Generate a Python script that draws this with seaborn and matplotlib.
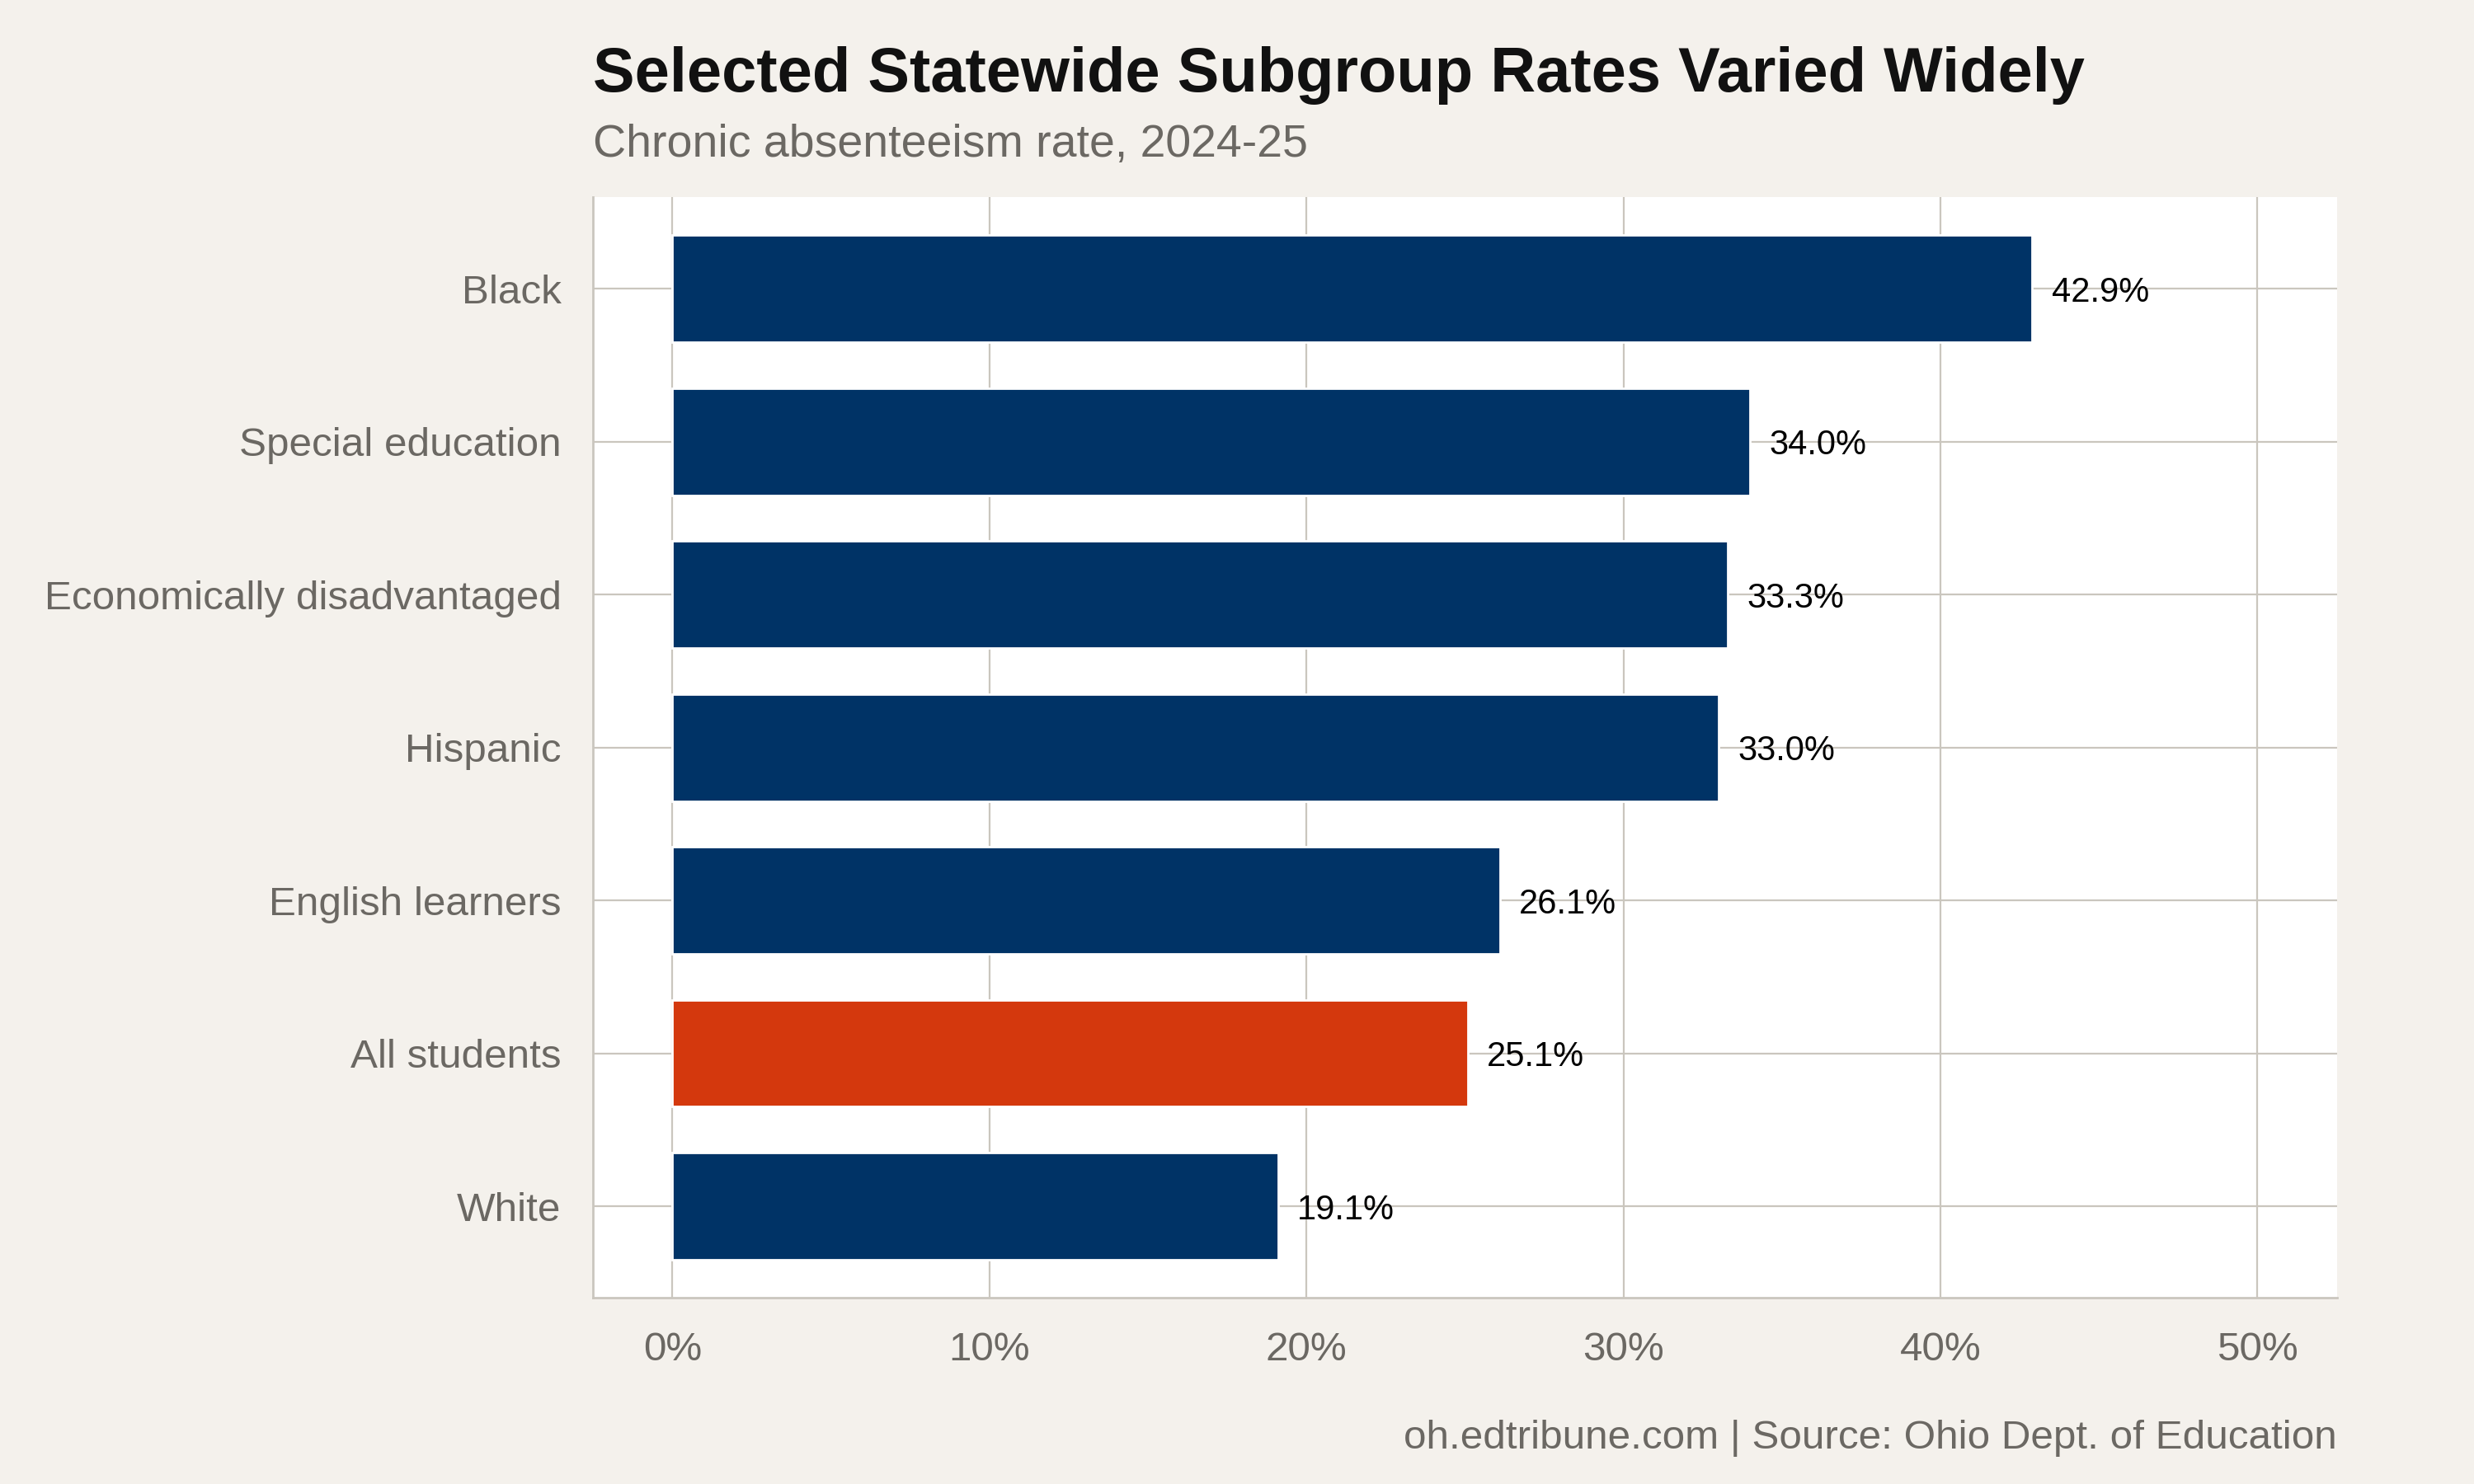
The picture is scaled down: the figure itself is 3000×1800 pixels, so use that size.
import numpy as np
import pandas as pd
import matplotlib
matplotlib.use("Agg")
import matplotlib.pyplot as plt
import seaborn as sns
from matplotlib.ticker import FuncFormatter

# data
groups = ["Black", "Special education", "Economically disadvantaged",
          "Hispanic", "English learners", "All students", "White"]
rates = [42.9, 34.0, 33.3, 33.0, 26.1, 25.1, 19.1]
highlight = ["other", "other", "other", "other", "other", "all", "other"]

df = pd.DataFrame({"group": groups, "rate": rates, "kind": highlight})

bg = "#f4f1ec"
grid = "#cac6be"
gray_txt = "#6b6863"
colors = {"other": "#003366", "all": "#d4380d"}

sns.set_theme(style="white")
plt.rcParams['font.family'] = ['Liberation Sans', 'DejaVu Sans']

fig = plt.figure(figsize=(15, 9), dpi=200, facecolor=bg)
ax = fig.add_axes([0.2398, 0.1254, 0.7047, 0.7418])
ax.set_facecolor("white")

sns.barplot(data=df, y="group", x="rate", hue="kind", palette=colors,
            order=groups, orient="h", width=0.7, dodge=False, legend=False,
            saturation=1, ax=ax, zorder=3)

for i, v in enumerate(rates):
    ax.text(v + 0.6, i, f"{v:.1f}%", va="center_baseline", ha="left",
            fontsize=15, color="black", zorder=4)

ax.set_xlim(-2.5, 52.5)
ax.set_ylim(6.6, -0.6)
ax.set_xticks([0, 10, 20, 30, 40, 50])
ax.xaxis.set_major_formatter(FuncFormatter(lambda x, p: f"{x:.0f}%"))
ax.grid(True, color=grid, linewidth=0.8, zorder=0)
ax.set_axisbelow(True)
ax.set_xlabel("")
ax.set_ylabel("")

for s in ["top", "right"]:
    ax.spines[s].set_visible(False)
for s in ["left", "bottom"]:
    ax.spines[s].set_color(grid)
    ax.spines[s].set_linewidth(1.0)

ax.tick_params(axis="both", length=5.5, width=0.9, color=grid,
               labelcolor=gray_txt, labelsize=17.8, pad=8.5)
ax.tick_params(axis="x", pad=9)

fig.text(0.2398, 0.949, "Selected Statewide Subgroup Rates Varied Widely",
         fontsize=27.3, fontweight="bold", color="#111111", ha="left", va="center")
fig.text(0.2398, 0.902, "Chronic absenteeism rate, 2024-25",
         fontsize=20, color=gray_txt, ha="left", va="center")
fig.text(0.9445, 0.031, "oh.edtribune.com | Source: Ohio Dept. of Education",
         fontsize=17.8, color=gray_txt, ha="right", va="center")

fig.savefig("out.png", dpi=200, facecolor=bg)
